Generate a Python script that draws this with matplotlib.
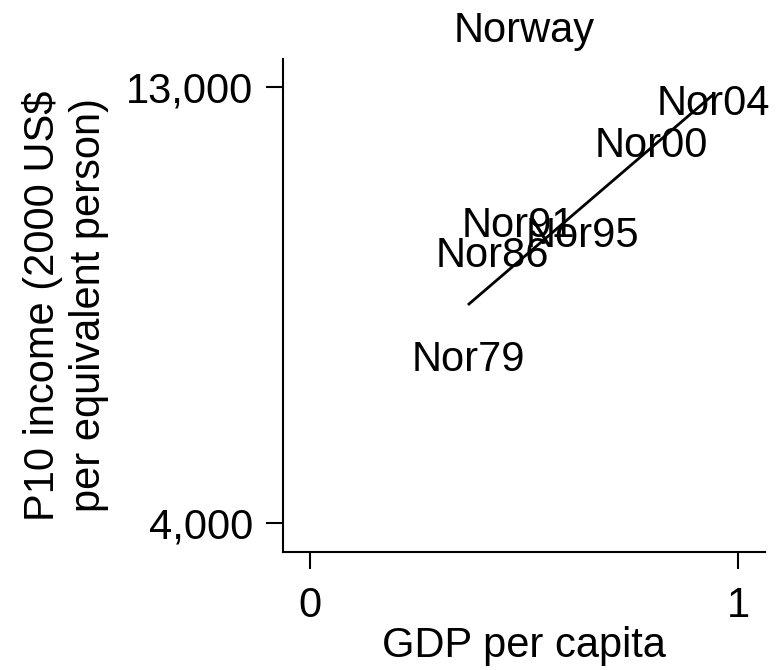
import numpy as np
import matplotlib
matplotlib.use("Agg")
from matplotlib import pyplot as plt

plt.rcParams["font.family"] = ["Liberation Sans", "DejaVu Sans"]

# data
labels = ["Nor79", "Nor86", "Nor91", "Nor95", "Nor00", "Nor04"]
gdp = [0.369, 0.425, 0.488, 0.636, 0.797, 0.942]
p10 = [7467, 9614, 10213, 10027, 11885, 12732]
xticks = [0, 1]
yticks = [4000, 13000]

fig = plt.figure(figsize=(7.84, 6.70), dpi=100)
ax = fig.add_axes([283 / 784, 1 - 552 / 670, (765 - 283) / 784, (552 - 59) / 670])

# fitted line over the range of the data
b, a = np.polyfit(gdp, p10, 1)
xs = np.array([min(gdp), max(gdp)])
ax.plot(xs, a + b * xs, color="black", lw=2.0, solid_capstyle="butt")

# marker labels only, no markers
for lab, x, y in zip(labels, gdp, p10):
    ax.text(x, y, lab, ha="center", va="center_baseline", fontsize=30)

ax.set_xlim(-0.063, 1.063)
ax.set_ylim(3400, 13578)
ax.set_xticks(xticks)
ax.set_xticklabels(["0", "1"])
ax.set_yticks(yticks)
ax.set_yticklabels(["4,000", "13,000"])

for s in ["top", "right"]:
    ax.spines[s].set_visible(False)
for s in ["left", "bottom"]:
    ax.spines[s].set_linewidth(1.5)
ax.tick_params(axis="both", length=12.5, width=1.5, labelsize=30)
ax.tick_params(axis="x", pad=12)
ax.tick_params(axis="y", pad=9)

ax.set_xlabel("GDP per capita", fontsize=30, labelpad=0)
ax.set_ylabel("P10 income (2000 US$\nper equivalent person)", fontsize=30, labelpad=12, linespacing=1.2)
ax.set_title("Norway", fontsize=30, pad=12)

plt.savefig("out.png", dpi=100)
